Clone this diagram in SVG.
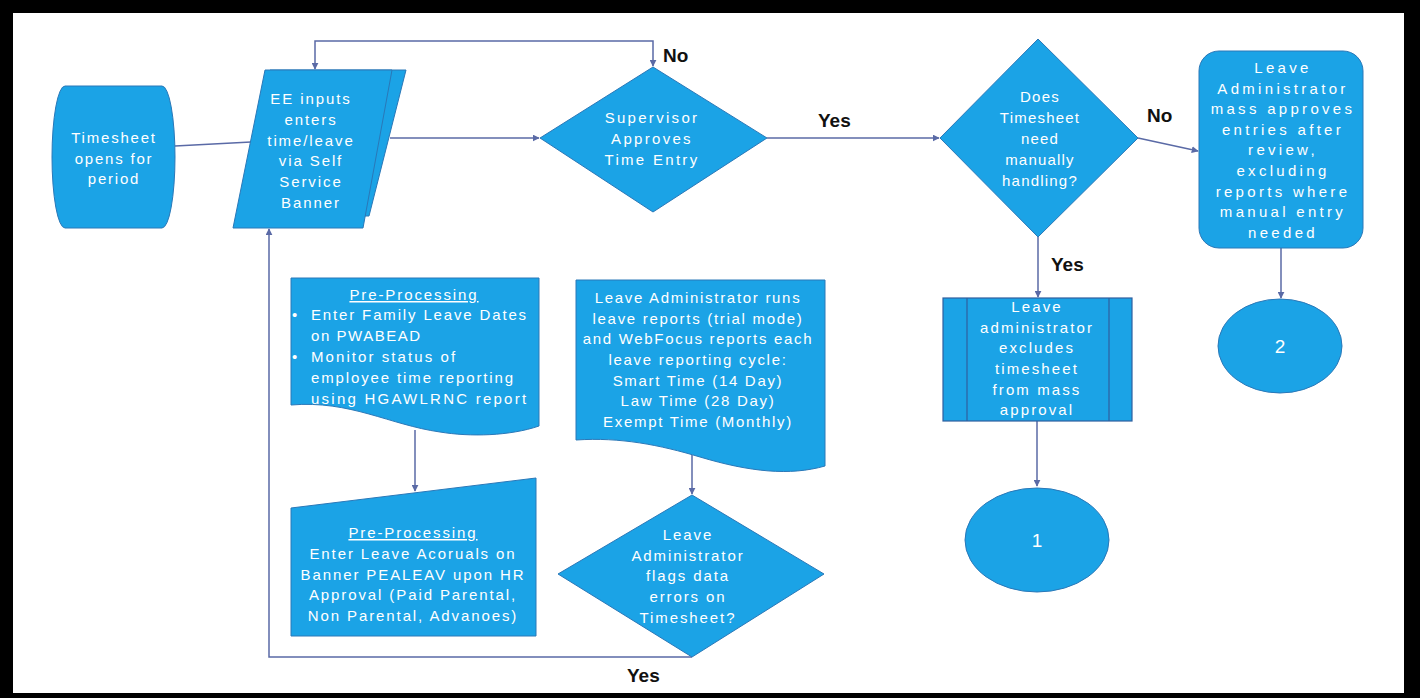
<svg xmlns="http://www.w3.org/2000/svg" width="1420" height="698" viewBox="0 0 1420 698">
<style>
.sh{fill:#1ba3e6;stroke:#2a78b8;stroke-width:1}
.t{font-family:"Liberation Sans",Arial,sans-serif;font-size:15px;fill:#ffffff;letter-spacing:1.9px;text-anchor:middle}
.ts{text-anchor:start}
.lb{font-family:"Liberation Sans",Arial,sans-serif;font-size:19px;font-weight:bold;fill:#111111}
.c{fill:none;stroke:#5a6aa6;stroke-width:1.5}
</style>
<defs>
<marker id="ah" viewBox="0 0 10 10" refX="9" refY="5" markerWidth="7" markerHeight="7" markerUnits="userSpaceOnUse" orient="auto-start-reverse">
<path d="M0,0 L10,5 L0,10 z" fill="#5a6aa6"/>
</marker>
</defs>
<rect x="0" y="0" width="1420" height="698" fill="#000000"/>
<rect x="13" y="13" width="1391" height="680" fill="#ffffff"/>

<g id="connectors">
<line class="c" x1="175" y1="146" x2="251" y2="142"/>
<line class="c" x1="390" y1="138" x2="539" y2="138" marker-end="url(#ah)"/>
<path class="c" d="M653,66 V41 H315 V69" marker-start="url(#ah)" marker-end="url(#ah)"/>
<line class="c" x1="767" y1="138" x2="939" y2="138" marker-end="url(#ah)"/>
<line class="c" x1="1138" y1="138" x2="1198" y2="151" marker-end="url(#ah)"/>
<line class="c" x1="1038" y1="237" x2="1038" y2="297" marker-end="url(#ah)"/>
<line class="c" x1="1281" y1="248" x2="1281" y2="298" marker-end="url(#ah)"/>
<line class="c" x1="1037" y1="421" x2="1037" y2="486" marker-end="url(#ah)"/>
<line class="c" x1="415" y1="430" x2="415" y2="491" marker-end="url(#ah)"/>
<line class="c" x1="692" y1="455" x2="692" y2="494" marker-end="url(#ah)"/>
<path class="c" d="M692,657 H269 V229" marker-end="url(#ah)"/>
</g>

<g id="labels">
<text class="lb" x="663" y="62">No</text>
<text class="lb" x="818" y="127">Yes</text>
<text class="lb" x="1147" y="122">No</text>
<text class="lb" x="1051" y="271">Yes</text>
<text class="lb" x="627" y="682">Yes</text>
</g>

<g id="n-timesheet">
<rect class="sh" x="52" y="86" width="123" height="142" rx="13" ry="71"/>
<text class="t" style="letter-spacing:1.8px" x="114" y="143">Timesheet</text>
<text class="t" style="letter-spacing:1.8px" x="114" y="164">opens for</text>
<text class="t" style="letter-spacing:1.8px" x="114" y="184">period</text>
</g>

<g id="n-ee">
<polygon class="sh" points="270,70 406,70 369,216 250,216"/>
<polygon class="sh" points="265,70 392,70 363,228 233,228"/>
<text class="t" x="311" y="104">EE inputs</text>
<text class="t" x="311" y="125">enters</text>
<text class="t" x="311" y="146">time/leave</text>
<text class="t" x="311" y="166">via Self</text>
<text class="t" x="311" y="187">Service</text>
<text class="t" x="311" y="208">Banner</text>
</g>

<g id="n-supervisor">
<polygon class="sh" points="540,138 653,67 767,138 653,212"/>
<text class="t" style="letter-spacing:2.3px" x="652" y="123">Supervisor</text>
<text class="t" style="letter-spacing:2.3px" x="652" y="144">Approves</text>
<text class="t" style="letter-spacing:2.3px" x="652" y="165">Time Entry</text>
</g>

<g id="n-does">
<polygon class="sh" points="940,138 1038,39 1138,138 1038,237"/>
<text class="t" style="letter-spacing:1.2px" x="1040" y="102">Does</text>
<text class="t" style="letter-spacing:1.2px" x="1040" y="123">Timesheet</text>
<text class="t" style="letter-spacing:1.2px" x="1040" y="144">need</text>
<text class="t" style="letter-spacing:1.2px" x="1040" y="165">manually</text>
<text class="t" style="letter-spacing:1.2px" x="1040" y="186">handling?</text>
</g>

<g id="n-massapprove">
<rect class="sh" x="1199" y="51" width="164" height="197" rx="20" ry="20"/>
<text class="t" style="letter-spacing:3.3px" x="1283" y="73">Leave</text>
<text class="t" style="letter-spacing:3.3px" x="1283" y="94">Administrator</text>
<text class="t" style="letter-spacing:3.3px" x="1283" y="114">mass approves</text>
<text class="t" style="letter-spacing:3.3px" x="1283" y="135">entries after</text>
<text class="t" style="letter-spacing:3.3px" x="1283" y="155">review,</text>
<text class="t" style="letter-spacing:3.3px" x="1283" y="176">excluding</text>
<text class="t" style="letter-spacing:3.3px" x="1283" y="197">reports where</text>
<text class="t" style="letter-spacing:3.3px" x="1283" y="217">manual entry</text>
<text class="t" style="letter-spacing:3.3px" x="1283" y="238">needed</text>
</g>

<g id="n-excludes">
<rect x="943" y="298" width="189" height="123" fill="#1ba3e6" stroke="#2f5f9f" stroke-width="1.2"/>
<line x1="967" y1="298" x2="967" y2="421" stroke="#2f5f9f" stroke-width="1.2"/>
<line x1="1109" y1="298" x2="1109" y2="421" stroke="#2f5f9f" stroke-width="1.2"/>
<text class="t" style="letter-spacing:2.1px" x="1037" y="312">Leave</text>
<text class="t" style="letter-spacing:2.1px" x="1037" y="333">administrator</text>
<text class="t" style="letter-spacing:2.1px" x="1037" y="353">excludes</text>
<text class="t" style="letter-spacing:2.1px" x="1037" y="374">timesheet</text>
<text class="t" style="letter-spacing:2.1px" x="1037" y="395">from mass</text>
<text class="t" style="letter-spacing:2.1px" x="1037" y="415">approval</text>
</g>

<g id="n-c1">
<ellipse class="sh" cx="1037" cy="540" rx="72" ry="52"/>
<text class="t" style="font-size:19px;letter-spacing:0" x="1037" y="547">1</text>
</g>

<g id="n-c2">
<ellipse class="sh" cx="1280" cy="346" rx="62" ry="47"/>
<text class="t" style="font-size:19px;letter-spacing:0" x="1280" y="353">2</text>
</g>

<g id="n-pre1">
<path class="sh" d="M291,278 H539 V426 C510,436 470,437 440,432 C390,425 350,400 291,405 Z"/>
<text class="t" x="414" y="300" text-decoration="underline">Pre-Processing</text>
<text class="t ts" x="292" y="320">•</text>
<text class="t ts" x="311" y="320" textLength="217" lengthAdjust="spacing">Enter Family Leave Dates</text>
<text class="t ts" x="311" y="341" textLength="111" lengthAdjust="spacing">on PWABEAD</text>
<text class="t ts" x="292" y="362">•</text>
<text class="t ts" x="311" y="362" textLength="146" lengthAdjust="spacing">Monitor status of</text>
<text class="t ts" x="311" y="383" textLength="204" lengthAdjust="spacing">employee time reporting</text>
<text class="t ts" x="311" y="404" textLength="217" lengthAdjust="spacing">using HGAWLRNC report</text>
</g>

<g id="n-pre2">
<polygon class="sh" points="291,508 536,478 536,636 291,636"/>
<text class="t" x="413" y="538" text-decoration="underline">Pre-Processing</text>
<text class="t" x="413" y="559">Enter Leave Acoruals on</text>
<text class="t" x="413" y="580">Banner PEALEAV upon HR</text>
<text class="t" x="413" y="600">Approval (Paid Parental,</text>
<text class="t" x="413" y="621">Non Parental, Advanoes)</text>
</g>

<g id="n-reports">
<path class="sh" d="M576,280 H825 V466 C790,476 750,472 700,457 C660,445 620,437 576,440 Z"/>
<text class="t" style="letter-spacing:1.7px" x="698" y="303">Leave Administrator runs</text>
<text class="t" style="letter-spacing:1.7px" x="698" y="324">leave reports (trial mode)</text>
<text class="t" style="letter-spacing:1.7px" x="698" y="344">and WebFocus reports each</text>
<text class="t" style="letter-spacing:1.7px" x="698" y="365">leave reporting cycle:</text>
<text class="t" style="letter-spacing:1.7px" x="698" y="386">Smart Time (14 Day)</text>
<text class="t" style="letter-spacing:1.7px" x="698" y="406">Law Time (28 Day)</text>
<text class="t" style="letter-spacing:1.7px" x="698" y="427">Exempt Time (Monthly)</text>
</g>

<g id="n-flags">
<polygon class="sh" points="558,574 692,495 824,574 692,657"/>
<text class="t" x="688" y="540">Leave</text>
<text class="t" x="688" y="561">Administrator</text>
<text class="t" x="688" y="581">flags data</text>
<text class="t" x="688" y="602">errors on</text>
<text class="t" x="688" y="623">Timesheet?</text>
</g>
</svg>
